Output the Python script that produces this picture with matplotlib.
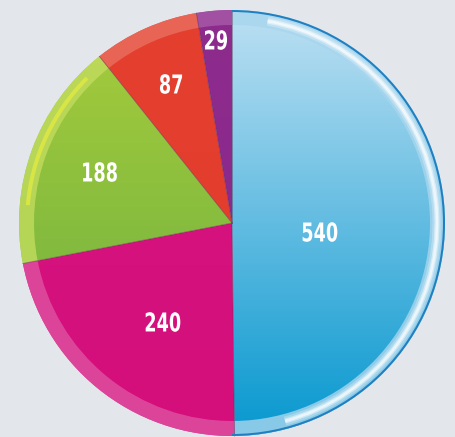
import numpy as np
import matplotlib.pyplot as plt
from matplotlib.patches import Wedge, PathPatch
from matplotlib.colors import LinearSegmentedColormap
from matplotlib.textpath import TextPath
from matplotlib.font_manager import FontProperties
from matplotlib.transforms import Affine2D

values = [540, 240, 188, 87, 29]
labels = ['540', '240', '188', '87', '29']
top_colors = ['#bde0f3', '#d6147f', '#a9cd3c', '#e5402f', '#8e2c8e']
bottom_colors = ['#0798cf', '#d40f7c', '#66ad40', '#e23a2e', '#862889']
rim_colors = ['#a8d6ee', '#df52a2', '#c2dc5e', '#ea6e60', '#a85aa8']

W, H = 455, 437
cx, cy, r = 232, H - 223, 213

fig = plt.figure(figsize=(W / 100, H / 100), dpi=100)
fig.patch.set_facecolor('#e3e6ea')
ax = fig.add_axes([0, 0, 1, 1])

wedges, _ = ax.pie(values, startangle=90, counterclock=False, radius=r,
                   center=(cx, cy), frame=True,
                   wedgeprops=dict(linewidth=0, alpha=0))
ax.set_xlim(0, W)
ax.set_ylim(0, H)
ax.set_aspect('equal')
ax.axis('off')

for w, c0, c1, rc in zip(wedges, top_colors, bottom_colors, rim_colors):
    cmap = LinearSegmentedColormap.from_list('g', [c1, c0])
    grad = np.linspace(0, 1, 256).reshape(-1, 1)
    im = ax.imshow(grad, cmap=cmap, extent=[cx - r, cx + r, cy - r, cy + r],
                   origin='lower', aspect='auto', zorder=1)
    im.set_clip_path(Wedge((cx, cy), r, w.theta1, w.theta2, transform=ax.transData))
    ax.add_patch(Wedge((cx, cy), r, w.theta1, w.theta2, width=15, facecolor=rc,
                       edgecolor='none', alpha=0.8, zorder=2))
    ax.plot([cx, cx + r * np.cos(np.radians(w.theta1))],
            [cy, cy + r * np.sin(np.radians(w.theta1))],
            color='#5a2a4a', lw=0.6, alpha=0.5, zorder=3)

# glossy highlights on the rim
for width, alpha in [(9, 0.25), (5, 0.45), (2.5, 0.6)]:
    ax.add_patch(Wedge((cx, cy), r - 8 + width / 2, -75, 80, width=width,
                       facecolor='white', edgecolor='none', alpha=alpha, zorder=3))
ax.add_patch(Wedge((cx, cy), r - 6, 135, 175, width=4, facecolor='#eef03a',
                   edgecolor='none', alpha=0.6, zorder=3))
ax.add_patch(Wedge((cx, cy), r, -90, 90, width=2, facecolor='#1f7fc0',
                   edgecolor='none', zorder=3))

fp = FontProperties(family='DejaVu Sans', weight='bold')
label_pos = [(320, 232), (163, 322), (100, 172), (171, 84), (216, 40)]
for lab, (x, y) in zip(labels, label_pos):
    tp = TextPath((0, 0), lab, size=26, prop=fp)
    bb = tp.get_extents()
    tr = (Affine2D().translate(-(bb.x0 + bb.x1) / 2, -(bb.y0 + bb.y1) / 2)
          .scale(0.68, 1.0).translate(x, H - y))
    ax.add_patch(PathPatch(tr.transform_path(tp), facecolor='white',
                           edgecolor='none', zorder=5))

fig.savefig('out.png', dpi=100, facecolor=fig.get_facecolor())
